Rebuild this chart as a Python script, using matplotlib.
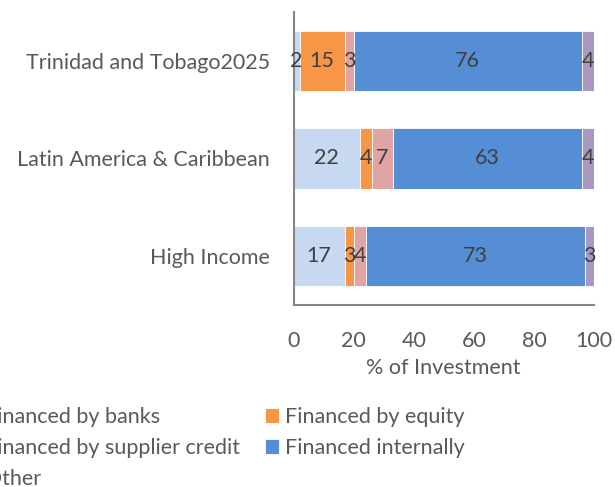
import matplotlib
matplotlib.use("Agg")
import matplotlib.pyplot as plt
import numpy as np

plt.rcParams['font.family'] = ['Lato', 'DejaVu Sans']

categories = ["Trinidad and Tobago2025", "Latin America & Caribbean", "High Income"]
series_names = ["Financed by banks", "Financed by equity", "Financed by supplier credit",
                "Financed internally", "Other"]
banks = [2, 22, 17]
equity = [15, 4, 3]
supplier = [3, 7, 4]
internal = [76, 63, 73]
other = [4, 4, 3]
series_values = [banks, equity, supplier, internal, other]
colors = ["#C6D9F1", "#F79646", "#E0A4A4", "#558ED5", "#A898C2"]
xticks = [0, 20, 40, 60, 80, 100]

FS = 15.5
text_color = "#595959"
fig = plt.figure(figsize=(6.15, 4.87), dpi=100)
ax = fig.add_axes([293.5/615, 1-305/487, (594-293.5)/615, (305-12)/487])

y = np.arange(len(categories))[::-1]
left = np.zeros(len(categories))
handles = []
for name, vals, c in zip(series_names, series_values, colors):
    vals = np.array(vals, dtype=float)
    bars = ax.barh(y, vals, left=left, height=0.62, color=c, edgecolor="white",
                   linewidth=0.6, label=name)
    handles.append(bars)
    for yi, l, v in zip(y, left, vals):
        ax.text(l + v/2, yi, f"{int(v)}", ha="center", va="center",
                fontsize=FS, color="#404040")
    left += vals

ax.set_xlim(0, 100)
ax.set_ylim(-0.5, 2.5)
ax.set_yticks(y)
ax.set_yticklabels(categories, fontsize=FS, color=text_color)
ax.set_xticks(xticks)
ax.set_xticklabels([str(t) for t in xticks], fontsize=FS, color=text_color)
ax.tick_params(axis="both", length=0)
ax.tick_params(axis="y", pad=17)
ax.tick_params(axis="x", pad=19)
ax.set_xlabel("% of Investment", fontsize=FS, color=text_color, labelpad=4.5)
for s in ["top", "right"]:
    ax.spines[s].set_visible(False)
for s in ["left", "bottom"]:
    ax.spines[s].set_color("#868686")
    ax.spines[s].set_linewidth(1.5)

# legend order: column-major (banks, supplier, other | equity, internal)
order = [0, 2, 4, 1, 3]
leg = fig.legend(handles=[handles[i] for i in order],
                 labels=[series_names[i] for i in order], ncol=2,
                 loc="upper left", bbox_to_anchor=(-35/615, 1-407/487),
                 frameon=False, fontsize=FS, handlelength=0.65, handleheight=0.65,
                 handletextpad=0.28, columnspacing=1.15, labelspacing=0.51,
                 borderaxespad=0, borderpad=0)
for t in leg.get_texts():
    t.set_color(text_color)

fig.savefig("out.png", dpi=100)
